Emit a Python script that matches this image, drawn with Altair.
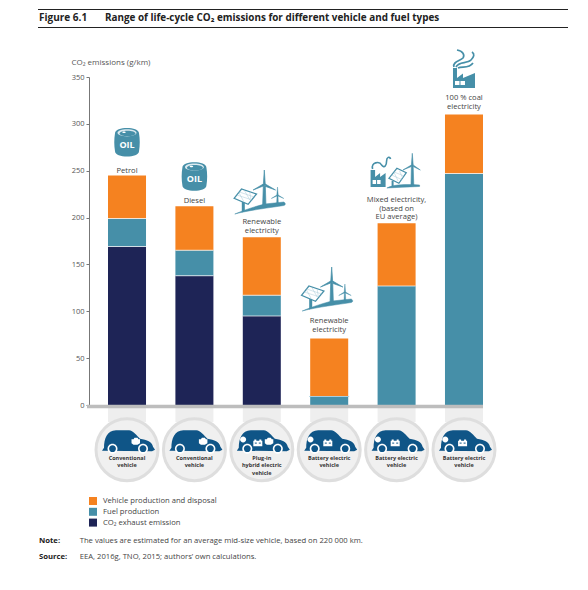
import altair as alt
import pandas as pd

FONT = "Open Sans"

# ---------- chart values ----------
categories = ["Petrol", "Diesel", "Plug-in hybrid", "BEV renewable", "BEV mixed", "BEV coal"]
exhaust = [169, 138, 95, 0, 0, 0]
fuel = [30, 27, 22, 9, 127, 247]
production = [46, 47, 62, 62, 67, 63]
series = ["Vehicle production and disposal", "Fuel production", "CO\u2082 exhaust emission"]
series_colors = ["#F58220", "#468FA8", "#1E2456"]
y_ticks = [0, 50, 100, 150, 200, 250, 300, 350]
fuel_labels = ["Petrol", "Diesel", "Renewable\nelectricity", "Renewable\nelectricity",
               "Mixed electricity,\n(based on\nEU average)", "100 % coal\nelectricity"]
vehicle_labels = ["Conventional\nvehicle", "Conventional\nvehicle", "Plug-in\nhybrid electric\nvehicle",
                  "Battery electric\nvehicle", "Battery electric\nvehicle", "Battery electric\nvehicle"]

TEAL = "#468FA8"
CAR = "#0F5587"
WHITE = "#FFFFFF"


def lvl(py):
    """Page pixel row expressed on the chart's y scale."""
    return (405 - py) * 350 / 328


# ---------- tables ----------
rows = []
for i, c in enumerate(categories):
    rows.append(dict(cat=c, s=series[2], v=exhaust[i], rank=0))
    rows.append(dict(cat=c, s=series[1], v=fuel[i], rank=1))
    rows.append(dict(cat=c, s=series[0], v=production[i], rank=2))
stack_df = pd.DataFrame(rows)

seps = []
for i, c in enumerate(categories):
    if exhaust[i] > 0:
        seps.append(dict(cat=c, v=exhaust[i]))
    seps.append(dict(cat=c, v=exhaust[i] + fuel[i]))
sep_df = pd.DataFrame(seps)

label_first_line = [170.5, 200.5, 222.3, 321.3, 200.3, 98.3]
label_df = pd.DataFrame([dict(cat=c, v=lvl(label_first_line[i]), t=fuel_labels[i]) for i, c in enumerate(categories)])

CIRCLE_Y = 449.7
veh_df = pd.DataFrame([dict(cat=c, v=lvl(458), t=vehicle_labels[i]) for i, c in enumerate(categories)])

oil_df = pd.DataFrame([dict(cat=categories[0], v=lvl(145)), dict(cat=categories[1], v=lvl(179))])


# ---------- pictograms (paths are in pixels around the anchor, size=4 means scale 1) ----------
def circ(cx, cy, r):
    return f"M{cx-r},{cy} A{r},{r} 0 1 1 {cx+r},{cy} A{r},{r} 0 1 1 {cx-r},{cy} Z"


def ell(cx, cy, rx, ry):
    return f"M{cx-rx},{cy} A{rx},{ry} 0 1 1 {cx+rx},{cy} A{rx},{ry} 0 1 1 {cx-rx},{cy} Z"


def shifted(path, dx):
    out = []
    for tok in path.split(" "):
        if tok == "Z":
            out.append(tok)
            continue
        cmd = tok[0] if tok[0].isalpha() else ""
        body = tok[1:] if cmd else tok
        x, y = body.split(",")
        out.append(f"{cmd}{float(x)+dx},{y}")
    return " ".join(out)


glyphs = []


def g(cat, py, path, fill="none", stroke="none", sw=0):
    glyphs.append(dict(cat=cat, v=lvl(py), path=path, fill=fill, stroke=stroke, sw=sw))


CAR_BODY = ("M-25,1 L-23,-2 C-23,-11 -20,-19.5 -11,-19.5 L2,-19.5 C6,-19.5 10,-14 13,-11 "
            "C20,-10 25,-8 26,-3 L28,0 L25,1.5 Z")
ENGINE = "M-4,-2 L-2,-2 L-1,-3.5 L2,-3.5 L3,-2 L4.5,-2 L4.5,2 L2,3.5 L-2,3.5 L-4,2 Z"
BATTERY = "M-4.5,-2.5 L-3.5,-2.5 L-3.5,-3.8 L-1.5,-3.8 L-1.5,-2.5 L1.5,-2.5 L1.5,-3.8 L3.5,-3.8 L3.5,-2.5 L4.5,-2.5 L4.5,3 L-4.5,3 Z"
BATTERY_MARKS = ["M-3,-0.6 L-1,-0.6 L-1,0.4 L-3,0.4 Z", "M1,-0.6 L3,-0.6 L3,0.4 L1,0.4 Z"]

for i, c in enumerate(categories):
    g(c, CIRCLE_Y, circ(0, 0, 31), fill="#F0F0F0", stroke="#DEDEDE", sw=3)
    g(c, CIRCLE_Y, CAR_BODY, fill=CAR)
    for wx in (-14.5, 16):
        g(c, CIRCLE_Y, circ(wx, -1, 5), fill=WHITE)
        g(c, CIRCLE_Y, circ(wx, -1, 3.4), fill=CAR)
    if i < 2:
        g(c, CIRCLE_Y - 8.5, shifted(ENGINE, 8.5), fill=WHITE)
    else:
        g(c, CIRCLE_Y - 8, circ(-18.7, -2.3, 3), fill=WHITE)
        dx = -4 if i == 2 else -1.4
        g(c, CIRCLE_Y - 6.5, shifted(BATTERY, dx), fill=WHITE)
        for m in BATTERY_MARKS:
            g(c, CIRCLE_Y - 6.5, shifted(m, dx), fill=CAR)
    if i == 2:
        g(c, CIRCLE_Y - 8.5, shifted(ENGINE, 7), fill=WHITE)

BARREL = "M-12,-9 C-12,-16 12,-16 12,-9 C13,-3 13,3 12,9 C12,16 -12,16 -12,9 C-13,3 -13,-3 -12,-9 Z"
for c, py in ((categories[0], 142.3), (categories[1], 176.5)):
    g(c, py, BARREL, fill=TEAL)
    g(c, py, ell(0, -9.5, 9.5, 3.6), fill="#DCEAF0")
    g(c, py, ell(0.5, -8.8, 8, 2.7), fill=TEAL)
    g(c, py, ell(-3, -10, 1.8, 0.8), fill=WHITE)

TURBINE_BIG = "M1.5,-5 L2.5,-20 L3.5,-5 L2.5,-4 L13.7,0 L3.5,-6 L3.5,-5 L4.2,17 L0.8,17 L1.5,-4 L-8.7,0 L1.5,-6 Z"
TURBINE_SMALL = "M15,5 L15.7,-3 L16.4,5 L22,8.5 L16.2,6 L16.6,14 L14.8,14 L15.2,6 L9.5,8.5 L15,5 Z"
GROUND = "M-27,24 C-15,19 -5,16 3,14 L22,12 C24,13 24,15 22,15.5 C10,17.5 -12,20 -27,24 Z"
PANEL = "M-27.7,8.3 L-20.3,-1 L-5.3,4 L-13.7,14.3 Z"
PANEL_GRID = "M-25,5 L-9.5,10 M-22.5,2 L-7.5,7 M-23,2.5 L-18,11.5 M-17,1 L-12,10 M-12,2 L-11,9"
POST = "M-20,12 L-17,12 L-17,21 L-20,22.5 Z"
for c, py in ((categories[2], 190), (categories[3], 287)):
    g(c, py, GROUND, fill=TEAL, stroke=TEAL, sw=0.5)
    g(c, py, TURBINE_BIG, fill=TEAL, stroke=TEAL, sw=0.7)
    g(c, py, TURBINE_SMALL, fill=TEAL, stroke=TEAL, sw=0.4)
    g(c, py, POST, fill=TEAL)
    g(c, py, PANEL, fill=WHITE, stroke=TEAL, sw=1.3)
    g(c, py, PANEL_GRID, stroke="#A9CBD8", sw=0.5)

c = categories[4]
py = 170
g(c, py, "M-26,17 L-26,0 L-21.5,0 L-21.5,7 L-16.5,3 L-16.5,7 L-11,3 L-11,17 Z", fill=TEAL)
g(c, py, "M-24,10 L-20.5,10 L-20.5,14 L-24,14 Z M-19.5,10 L-16,10 L-16,14 L-19.5,14 Z", fill=WHITE)
g(c, py, "M-24,-1 C-26,-8 -17,-9 -15,-5 C-12,-1 -10,-5 -10,-9 C-10,-13 -7,-14 -6,-11", stroke=TEAL, sw=1.6)
g(c, py, "M-9.7,18 C-3,14.5 8,14 23,15 L23,16.5 C10,17 0,17.5 -9.7,18 Z", fill=TEAL, stroke=TEAL, sw=0.5)
g(c, py, "M-5,11 L-3,11 L-3,16 L-5,16 Z", fill=TEAL)
g(c, py, "M-7.7,8.3 L0.3,-1.7 L9.7,2.7 L2.3,13.3 Z", fill=WHITE, stroke=TEAL, sw=1.2)
g(c, py, "M-5,5 L5,9.5 M-2.5,2 L7.5,6 M-2.5,2.5 L1.5,11 M3,1 L6,8", stroke="#A9CBD8", sw=0.5)
g(c, py, "M14.8,-5 L15.7,-16.7 L16.6,-5 L23.7,0 L16.6,-3.5 L17.2,15 L14.4,15 L14.8,-3.5 L6.3,0 L14.8,-5 Z",
  fill=TEAL, stroke=TEAL, sw=0.6)

c = categories[5]
py = 70
g(c, py, "M-11,18 L-11,-2 L-7,-2 L-7,8 L-1,3.5 L-1,8 L11,3 L11,18 Z", fill=TEAL)
g(c, py, "M-9,11 L-4.5,11 L-4.5,15 L-9,15 Z M-3.5,11 L1,11 L1,15 L-3.5,15 Z", fill=WHITE)
g(c, py, "M-10,-3 C-12,-8 -4,-9 -1,-12 C1,-15 -1,-19 -7,-20", stroke=TEAL, sw=1.7)
g(c, py, "M-8,-3 C-5,-9 3,-6 7,-10 C10,-13 11,-16 8,-18", stroke=TEAL, sw=1.7)
g(c, py, "M-6,-2 C-2,-4 5,-1 9,-7", stroke=TEAL, sw=1.7)
glyph_df = pd.DataFrame(glyphs)

# ---------- scales ----------
x_enc = alt.X("cat:N", sort=categories, axis=None,
              scale=alt.Scale(domain=categories, paddingInner=0.436, paddingOuter=0.282))
y_scale = alt.Scale(domain=[0, 350], nice=False, zero=False)

# ---------- layers ----------
gutter = alt.Chart(pd.DataFrame({"cat": categories})).mark_bar(color="#EEEEEE").encode(
    x=x_enc, y=alt.value(328), y2=alt.value(345))

bars = alt.Chart(stack_df).mark_bar(stroke=None).encode(
    x=x_enc,
    y=alt.Y("v:Q", stack="zero", scale=y_scale,
            axis=alt.Axis(values=y_ticks, grid=False, tickSize=3, tickColor="#777777", domainColor="#777777",
                          domainWidth=1, tickWidth=1, labelFont=FONT, labelFontSize=7.5, labelColor="#555555",
                          labelPadding=2, title="CO\u2082 emissions (g/km)", titleFont=FONT, titleFontSize=8,
                          titleFontWeight="normal", titleColor="#555555", titleAngle=0, titleAlign="left",
                          titleBaseline="middle", titleX=-18, titleY=-15)),
    color=alt.Color("s:N", scale=alt.Scale(domain=series, range=series_colors),
                    legend=alt.Legend(title=None, orient="none", legendX=0, legendY=420, symbolType="square",
                                      symbolSize=64, symbolStrokeWidth=0, labelFont=FONT, labelFontSize=7.65,
                                      labelColor="#444444", labelOffset=6, rowPadding=2.8, padding=0)),
    order=alt.Order("rank:Q"),
)

separators = alt.Chart(sep_df).mark_tick(color=WHITE, thickness=1, size=38, orient="horizontal").encode(
    x=x_enc, y=alt.Y("v:Q", scale=y_scale))
bev_line = alt.Chart(pd.DataFrame({"cat": [categories[3]], "v": [fuel[3]]})).mark_tick(
    color="#8CC3E0", thickness=1, size=40, orient="horizontal").encode(x=x_enc, y=alt.Y("v:Q", scale=y_scale))

baseline = alt.Chart(pd.DataFrame({"a": [0]})).mark_rule(color="#BDBDBD", strokeWidth=3.5).encode(
    x=alt.value(-2), x2=alt.value(394), y=alt.value(329.6))

pictos = alt.Chart(glyph_df).mark_point(size=4, filled=True, opacity=1).encode(
    x=x_enc,
    y=alt.Y("v:Q", scale=y_scale),
    shape=alt.Shape("path:N", scale=None),
    fill=alt.Fill("fill:N", scale=None),
    stroke=alt.Stroke("stroke:N", scale=None),
    strokeWidth=alt.StrokeWidth("sw:Q", scale=None),
)

fuel_text = alt.Chart(label_df).mark_text(font=FONT, fontSize=7.6, color="#444444", lineBreak="\n", lineHeight=8.3,
                                          baseline="middle").encode(
    x=x_enc, y=alt.Y("v:Q", scale=y_scale), text="t:N")
veh_text = alt.Chart(veh_df).mark_text(font=FONT, fontSize=5.5, fontWeight="bold", color="#333333", lineBreak="\n",
                                       lineHeight=7.4, baseline="middle").encode(
    x=x_enc, y=alt.Y("v:Q", scale=y_scale), text="t:N")
oil_text = alt.Chart(oil_df).mark_text(font=FONT, fontSize=9, fontWeight="bold", color=WHITE, text="OIL",
                                       baseline="middle").encode(x=x_enc, y=alt.Y("v:Q", scale=y_scale))


def frame_text(s, px, py, size, weight="normal", color="#333333"):
    return alt.Chart(pd.DataFrame({"t": [s]})).mark_text(
        font=FONT, fontSize=size, fontWeight=weight, color=color, align="left", baseline="middle").encode(
        x=alt.value(px - 89), y=alt.value(py - 77), text="t:N")


def top_rule(py):
    return alt.Chart(pd.DataFrame({"a": [0]})).mark_rule(color="#222222", strokeWidth=1).encode(
        x=alt.value(38 - 89), x2=alt.value(568 - 89), y=alt.value(py - 77))


chart = alt.layer(
    top_rule(9.5), top_rule(27.5),
    frame_text("Figure 6.1", 39, 18, 10, "bold", "#222222"),
    frame_text("Range of life-cycle CO\u2082 emissions for different vehicle and fuel types", 105, 18, 9.9, "bold", "#222222"),
    frame_text("Note:", 39, 541, 7.7, "bold", "#222222"),
    frame_text("The values are estimated for an average mid-size vehicle, based on 220 000 km.", 79.7, 541, 7.66, "normal", "#444444"),
    frame_text("Source:", 39, 557, 7.7, "bold", "#222222"),
    frame_text("EEA, 2016g, TNO, 2015; authors\u2019 own calculations.", 79.7, 557, 7.66, "normal", "#444444"),
    gutter, bars, separators, bev_line, baseline, pictos, fuel_text, veh_text, oil_text,
).properties(
    width=413, height=328,
    autosize=alt.AutoSizeParams(type="none"),
    padding={"left": 81, "top": 69, "right": 78, "bottom": 177},
    background="white",
).configure_view(stroke=None)

chart.save("out.html", embed_options={"renderer": "svg", "actions": False})
